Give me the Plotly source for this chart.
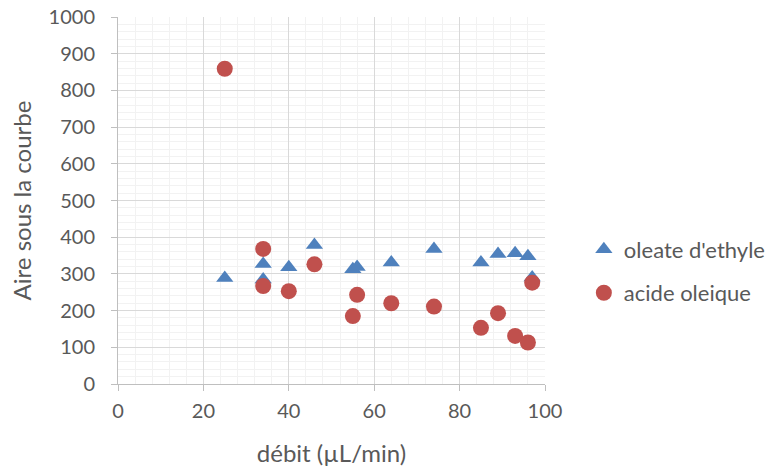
import plotly.graph_objects as go

# oleate d'ethyle (triangles)
oleate_x = [25, 34, 34, 40, 46, 55, 56, 64, 74, 85, 89, 93, 96, 97]
oleate_y = [289, 327, 285, 318, 379, 313, 319, 331, 368, 331, 354, 356, 348, 290]

# acide oleique (circles)
acide_x = [25, 34, 34, 40, 46, 55, 56, 64, 74, 85, 89, 93, 96, 97]
acide_y = [859, 368, 267, 253, 326, 185, 243, 220, 211, 153, 193, 131, 113, 276]

x_title = "débit (µL/min)"
y_title = "Aire sous la courbe"

FONT = "Lato"
TXT = "#595959"

fig = go.Figure()
fig.add_trace(go.Scatter(
    x=oleate_x, y=oleate_y, mode="markers", name="oleate d'ethyle",
    legendgroup="a",
    marker=dict(symbol="triangle-up", size=15, color="#4F81BD"),
))
fig.add_trace(go.Scatter(
    x=acide_x, y=acide_y, mode="markers", name="acide oleique",
    legendgroup="b",
    marker=dict(symbol="circle", size=16, color="#C0504D"),
))

axis_common = dict(
    showline=True, linecolor="#BFBFBF", linewidth=1,
    gridcolor="#D9D9D9", gridwidth=1,
    ticks="outside", ticklen=6, tickcolor="#BFBFBF",
    tickfont=dict(family=FONT, size=20, color=TXT),
    zeroline=False, automargin=False,
)

fig.update_layout(
    width=770, height=470,
    margin=dict(l=118, r=224.5, t=17, b=86, autoexpand=False),
    paper_bgcolor="white", plot_bgcolor="white",
    font=dict(family=FONT, color=TXT),
    xaxis=dict(
        range=[0, 100], dtick=20, tick0=0,
        minor=dict(dtick=4, showgrid=True, gridcolor="#F2F2F2", ticks=""),
        ticklabelstandoff=3,
        title=dict(text=x_title, font=dict(family=FONT, size=24, color=TXT), standoff=24),
        **axis_common,
    ),
    yaxis=dict(
        range=[0, 1000], dtick=100, tick0=0,
        minor=dict(dtick=20, showgrid=True, gridcolor="#F2F2F2", ticks=""),
        ticklabelstandoff=12,
        title=dict(text=y_title, font=dict(family=FONT, size=24, color=TXT), standoff=10),
        **axis_common,
    ),
    legend=dict(
        x=1.091, y=0.307, xanchor="left", yanchor="middle",
        font=dict(family=FONT, size=22, color=TXT),
        tracegroupgap=12, bgcolor="rgba(0,0,0,0)",
    ),
    showlegend=True,
)

fig.write_html("out.html", config={"displayModeBar": False},
               post_script="document.body.style.margin='0';")
